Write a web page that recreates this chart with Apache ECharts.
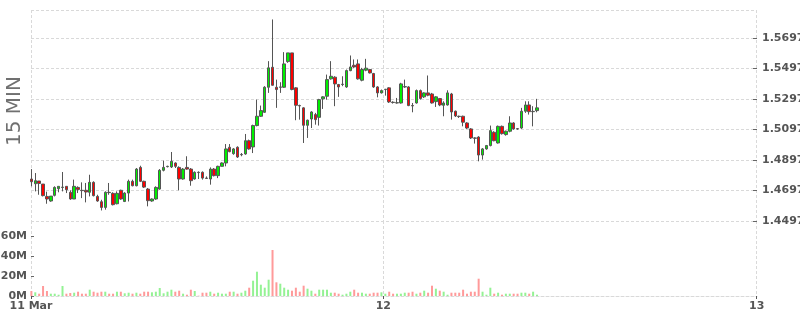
<!DOCTYPE html>
<html>
<head>
<meta charset="utf-8">
<script src="https://cdn.jsdelivr.net/npm/echarts@6/dist/echarts.min.js"></script>
<style>html,body{margin:0;padding:0;background:#fff}#c{width:800px;height:315px}</style>
</head>
<body>
<div id="c"></div>
<script>
// ---- data (15-minute candles, first candle centred at 11 Mar 01:22:30) ----
var firstCandle = Date.UTC(2021, 2, 11, 1, 22, 30);
var stepMs = 15 * 60 * 1000;

var opens = [1.4772,1.4741,1.4759,1.4739,1.4658,1.4628,1.4665,1.4709,1.4717,1.4724,
1.4685,1.4641,1.4717,1.4698,1.4698,1.4685,1.4750,1.4658,1.4623,1.4586,
1.4685,1.4678,1.4610,1.4698,1.4625,1.4680,1.4757,1.4728,1.4848,1.4757,
1.4706,1.4628,1.4641,1.4706,1.4829,1.4853,1.4851,1.4877,1.4848,1.4772,
1.4848,1.4837,1.4772,1.4816,1.4816,1.4778,1.4772,1.4837,1.4794,1.4855,
1.4877,1.4980,1.4938,1.4980,1.4931,1.4936,1.5023,1.4982,1.5122,1.5183,
1.5209,1.5373,1.5504,1.5373,1.5373,1.5373,1.5541,1.5598,1.5369,1.5253,
1.5238,1.5124,1.5165,1.5194,1.5176,1.5297,1.5314,1.5428,1.5439,1.5391,
1.5391,1.5375,1.5482,1.5517,1.5526,1.5419,1.5485,1.5489,1.5463,1.5375,
1.5336,1.5358,1.5369,1.5275,1.5270,1.5270,1.5375,1.5375,1.5253,1.5270,
1.5351,1.5310,1.5336,1.5329,1.5279,1.5299,1.5255,1.5257,1.5329,1.5216,
1.5183,1.5183,1.5139,1.5100,1.5041,1.5047,1.4929,1.4969,1.4991,1.5078,
1.5008,1.5117,1.5063,1.5085,1.5139,1.5102,1.5106,1.5216,1.5257,1.5213,
1.5220];

var closes = [1.4754,1.4761,1.4743,1.4663,1.4641,1.4660,1.4717,1.4724,1.4719,1.4702,
1.4641,1.4724,1.4704,1.4696,1.4687,1.4750,1.4663,1.4628,1.4586,1.4685,
1.4683,1.4604,1.4678,1.4641,1.4680,1.4757,1.4728,1.4837,1.4757,1.4719,
1.4630,1.4641,1.4717,1.4829,1.4848,1.4855,1.4888,1.4855,1.4772,1.4837,
1.4837,1.4761,1.4816,1.4814,1.4778,1.4776,1.4837,1.4794,1.4855,1.4877,
1.4969,1.4951,1.4969,1.4916,1.4933,1.5023,1.4969,1.5122,1.5183,1.5220,
1.5373,1.5500,1.5386,1.5358,1.5375,1.5526,1.5598,1.5358,1.5255,1.5251,
1.5124,1.5157,1.5211,1.5161,1.5292,1.5310,1.5423,1.5445,1.5395,1.5375,
1.5393,1.5482,1.5506,1.5506,1.5428,1.5489,1.5498,1.5467,1.5375,1.5336,
1.5351,1.5360,1.5277,1.5273,1.5272,1.5395,1.5377,1.5253,1.5251,1.5351,
1.5299,1.5336,1.5321,1.5270,1.5310,1.5257,1.5270,1.5336,1.5211,1.5185,
1.5181,1.5144,1.5106,1.5041,1.5039,1.4929,1.4969,1.4991,1.5089,1.5023,
1.5117,1.5069,1.5085,1.5139,1.5100,1.5100,1.5216,1.5257,1.5213,1.5215,
1.5238];

var lows = [1.4724,1.4691,1.4669,1.4658,1.4610,1.4623,1.4658,1.4685,1.4691,1.4680,
1.4636,1.4641,1.4680,1.4647,1.4619,1.4658,1.4658,1.4623,1.4566,1.4571,
1.4669,1.4599,1.4606,1.4636,1.4621,1.4625,1.4724,1.4724,1.4752,1.4713,
1.4593,1.4623,1.4636,1.4702,1.4822,1.4848,1.4844,1.4844,1.4698,1.4768,
1.4833,1.4728,1.4768,1.4772,1.4768,1.4772,1.4735,1.4789,1.4778,1.4855,
1.4855,1.4947,1.4931,1.4910,1.4921,1.4931,1.4964,1.4942,1.5117,1.5178,
1.5205,1.5336,1.5384,1.5238,1.5336,1.5369,1.5533,1.5353,1.5157,1.5161,
1.5008,1.5041,1.5106,1.5128,1.5122,1.5231,1.5292,1.5423,1.5249,1.5310,
1.5380,1.5369,1.5478,1.5500,1.5423,1.5412,1.5478,1.5463,1.5369,1.5307,
1.5332,1.5318,1.5270,1.5266,1.5266,1.5266,1.5369,1.5249,1.5209,1.5266,
1.5292,1.5303,1.5314,1.5266,1.5244,1.5249,1.5183,1.5253,1.5161,1.5178,
1.5172,1.5117,1.5100,1.5034,1.5004,1.4888,1.4899,1.4964,1.4986,1.5019,
1.5004,1.5063,1.5056,1.5078,1.5095,1.5095,1.5100,1.5205,1.5194,1.5117,
1.5209];

var highs = [1.4837,1.4811,1.4759,1.4739,1.4689,1.4660,1.4724,1.4724,1.4818,1.4724,
1.4698,1.4768,1.4724,1.4750,1.4746,1.4800,1.4757,1.4669,1.4636,1.4691,
1.4746,1.4685,1.4691,1.4702,1.4685,1.4768,1.4768,1.4844,1.4859,1.4761,
1.4713,1.4645,1.4724,1.4837,1.4892,1.4859,1.4949,1.4881,1.4855,1.4844,
1.4921,1.4844,1.4822,1.4822,1.4822,1.4789,1.4848,1.4844,1.4859,1.4881,
1.5001,1.5001,1.4975,1.4986,1.4942,1.5067,1.5030,1.5128,1.5292,1.5253,
1.5380,1.5544,1.5817,1.5423,1.5406,1.5603,1.5598,1.5598,1.5373,1.5259,
1.5242,1.5161,1.5216,1.5205,1.5297,1.5314,1.5456,1.5544,1.5445,1.5395,
1.5445,1.5489,1.5581,1.5555,1.5555,1.5500,1.5559,1.5493,1.5467,1.5380,
1.5358,1.5362,1.5373,1.5281,1.5303,1.5402,1.5423,1.5380,1.5270,1.5358,
1.5358,1.5340,1.5450,1.5336,1.5314,1.5303,1.5281,1.5353,1.5336,1.5220,
1.5187,1.5187,1.5144,1.5106,1.5045,1.5052,1.4975,1.4995,1.5122,1.5085,
1.5122,1.5122,1.5089,1.5183,1.5144,1.5106,1.5238,1.5281,1.5281,1.5249,
1.5297];

// volume in millions
var volumes = [5,3.7,2.3,10,5,2.3,2.3,1.3,10,2.3,
3,3.3,4.3,2.3,2.3,6.3,4.3,3.3,4.3,4.3,
2.3,2.3,4.3,4.3,2.7,3.3,2.3,3.3,2.3,4.3,
4.3,3.7,4.3,8,2.7,4.3,6.3,4.3,5.3,2.3,
1.3,6.3,5,0.3,3.3,3.3,4.3,2.3,3.3,2.3,
2.3,4.3,4.3,2.3,3.3,5.3,8.3,15.3,24.3,11.3,
8.3,16.3,46,13.7,12.3,8.3,6.3,5.3,8.3,4.3,
10.3,7.3,5.3,2.3,6.3,6.3,6.3,3.3,3.3,2.3,
1.3,2.3,4.3,6.3,3.3,3.3,2.3,2.3,3.3,3.3,
3.7,2.3,4.3,2.3,2.3,2.3,3.3,3.3,4.3,2.3,
3.3,5.3,3.3,10.3,7.3,5.3,4.3,1.3,3.3,3.3,
3.3,6.3,2.3,4.3,4.3,17.3,4.3,1.3,8.3,2.3,
3.3,1.3,2.3,2.3,2.3,2.3,3.3,3.3,2.3,4.3,
1.3];

var xMin = Date.UTC(2021, 2, 11, 1, 21);
var xMax = Date.UTC(2021, 2, 13, 0, 1);
var xTickValues = [xMin, Date.UTC(2021, 2, 12), Date.UTC(2021, 2, 13)];
var xTickLabels = ['11 Mar', '12', '13'];
var priceMin = 1.4497, priceMax = 1.5879, priceStep = 0.02;
var volMax = 75, volStep = 20;
var chartTitle = '15 MIN';

// ---- build ----
var times = opens.map(function (_, i) { return firstCandle + i * stepMs; });
var candleData = times.map(function (t, i) { return [t, opens[i], closes[i], lows[i], highs[i]]; });
var UP = '#00f000', DOWN = '#ff0000', VUP = '#94f294', VDOWN = '#ff9a9a';
var volData = times.map(function (t, i) {
  return { value: [t, volumes[i]], itemStyle: { color: closes[i] >= opens[i] ? VUP : VDOWN } };
});

var gridLine = { show: true, lineStyle: { color: '#d9d9d9', type: [3, 2], width: 1 } };
var labelStyle = { color: '#555', fontSize: 11, fontWeight: 'bold', fontFamily: 'DejaVu Sans' };
function xFmt(v) {
  for (var k = 0; k < xTickValues.length; k++) if (Math.abs(v - xTickValues[k]) < 1000) return xTickLabels[k];
  return '';
}

var chart = echarts.init(document.getElementById('c'), null, { renderer: 'canvas' });
chart.setOption({
  animation: false,
  backgroundColor: '#fff',
  grid: [
    { left: 31, right: 43, top: 10, height: 211, outerBoundsMode: 'none', containLabel: false },
    { left: 31, right: 43, top: 221, height: 75, outerBoundsMode: 'none', containLabel: false }
  ],
  xAxis: [
    { type: 'value', gridIndex: 0, min: xMin, max: xMax, scale: true,
      axisLine: { show: false }, axisLabel: { show: false, customValues: xTickValues },
      axisTick: { show: false, customValues: xTickValues },
      splitLine: gridLine },
    { type: 'value', gridIndex: 1, min: xMin, max: xMax, scale: true,
      axisLine: { show: true, lineStyle: { color: '#d9d9d9', type: [3, 2] } },
      axisTick: { show: true, length: 3, lineStyle: { color: '#555' }, customValues: xTickValues },
      axisLabel: Object.assign({ customValues: xTickValues, formatter: xFmt, margin: 5 }, labelStyle),
      splitLine: gridLine }
  ],
  yAxis: [
    { type: 'value', gridIndex: 0, position: 'right', min: priceMin, max: priceMax, interval: priceStep,
      axisLine: { show: false },
      axisTick: { show: true, inside: true, length: 4, lineStyle: { color: '#666' } },
      axisLabel: Object.assign({ showMaxLabel: false, margin: 5,
        formatter: function (v) { return v.toFixed(4); } }, labelStyle),
      splitLine: gridLine },
    { type: 'value', gridIndex: 1, position: 'left', min: 0, max: volMax, interval: volStep,
      axisLine: { show: false },
      axisTick: { show: true, inside: true, length: 3, lineStyle: { color: '#666' } },
      axisLabel: Object.assign({ showMaxLabel: false, margin: 4,
        formatter: function (v) { return v + 'M'; } }, labelStyle),
      splitLine: { show: false } }
  ],
  graphic: [{
    type: 'text', x: 15, y: 111, rotation: Math.PI / 2,
    style: { text: chartTitle, fontSize: 20, fill: '#707070', fontFamily: 'DejaVu Sans',
      align: 'center', verticalAlign: 'middle' }
  }],
  series: [
    { type: 'candlestick', xAxisIndex: 0, yAxisIndex: 0, data: candleData,
      encode: { x: 0, y: [1, 2, 3, 4] }, barWidth: 3,
      itemStyle: { color: UP, color0: DOWN, borderColor: '#555', borderColor0: '#555', borderWidth: 1 } },
    { type: 'bar', xAxisIndex: 1, yAxisIndex: 1, data: volData, barWidth: 2,
      encode: { x: 0, y: 1 } }
  ]
});
</script>
</body>
</html>
